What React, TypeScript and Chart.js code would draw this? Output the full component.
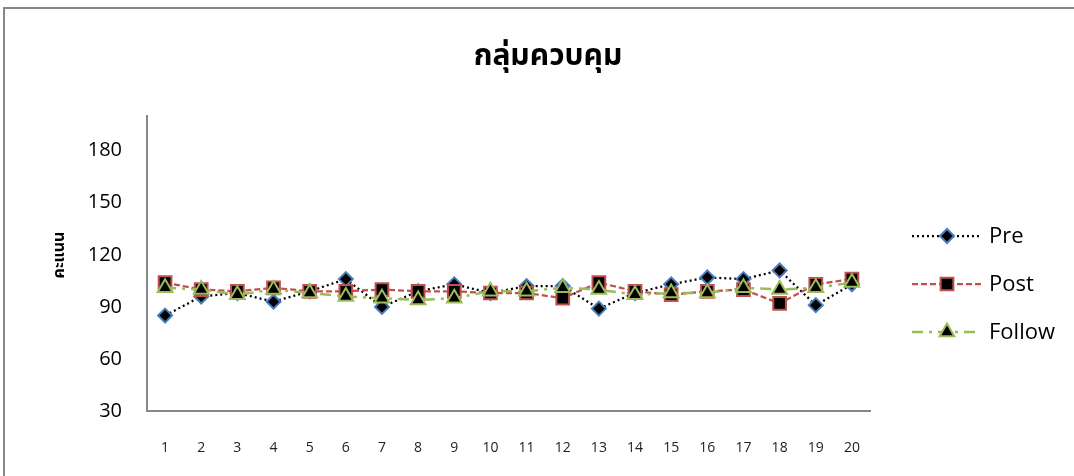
import React, { useEffect, useRef } from 'react';
import { Chart, registerables } from 'chart.js';
import { drawPoint } from 'chart.js/helpers';

Chart.register(...registerables);

const categories = ['1', '2', '3', '4', '5', '6', '7', '8', '9', '10', '11', '12', '13', '14', '15', '16', '17', '18', '19', '20'];
const preValues = [85, 96, 98, 93, 99, 106, 90, 99, 103, 98, 102, 102, 89, 98, 103, 107, 106, 111, 91, 103];
const postValues = [104, 100, 99, 101, 99, 99, 100, 99, 99, 98, 98, 95, 104, 99, 97, 99, 100, 92, 103, 106];
const followValues = [101, 100, 97, 100, 98, 96, 95, 94, 95, 99, 99, 101, 100, 97, 98, 98, 101, 100, 101, 104];
const yTicks = [30, 60, 90, 120, 150, 180];
const seriesNames = ['Pre', 'Post', 'Follow'];
const chartTitle = 'กลุ่มควบคุม';
const yAxisTitle = 'คะแนน';

const THAI_FONT = '"Noto Sans Thai", "Loma", "Garuda", "Tlwg Typo", "DejaVu Sans", sans-serif';
const LATIN_FONT = '"Open Sans", "Noto Sans", sans-serif';

const decorPlugin = {
  id: 'decor',
  afterDraw(chart: any) {
    const ctx = chart.ctx as CanvasRenderingContext2D;
    ctx.save();
    // Title
    ctx.fillStyle = '#000';
    ctx.font = `bold 30px ${THAI_FONT}`;
    ctx.textAlign = 'center';
    ctx.textBaseline = 'middle';
    ctx.fillText(chartTitle, 548, 59);
    // Y axis title
    ctx.save();
    ctx.translate(61, 255);
    ctx.rotate(-Math.PI / 2);
    ctx.font = `bold 16px ${THAI_FONT}`;
    ctx.fillText(yAxisTitle, 0, 0);
    ctx.restore();
    // Legend
    chart.data.datasets.forEach((ds: any, i: number) => {
      const y = 236 + 48 * i;
      ctx.save();
      ctx.strokeStyle = ds.borderColor;
      ctx.lineWidth = ds.borderWidth;
      ctx.setLineDash(ds.borderDash || []);
      ctx.beginPath();
      ctx.moveTo(912, y);
      ctx.lineTo(981, y);
      ctx.stroke();
      ctx.restore();
      ctx.save();
      ctx.fillStyle = ds.pointBackgroundColor;
      ctx.strokeStyle = ds.pointBorderColor;
      ctx.lineWidth = ds.pointBorderWidth;
      ctx.setLineDash([]);
      drawPoint(ctx, { pointStyle: ds.pointStyle, radius: ds.pointRadius, rotation: 0, borderWidth: ds.pointBorderWidth }, 947, y);
      ctx.restore();
      ctx.fillStyle = '#000';
      ctx.font = `22px ${LATIN_FONT}`;
      ctx.textAlign = 'left';
      ctx.textBaseline = 'middle';
      ctx.fillText(ds.label, 989, y + 1);
    });
    ctx.restore();
  },
};

export default function App() {
  const canvasRef = useRef<HTMLCanvasElement | null>(null);

  useEffect(() => {
    if (!canvasRef.current) return;
    const chart = new Chart(canvasRef.current, {
      type: 'line',
      data: {
        labels: categories,
        datasets: [
          {
            label: seriesNames[0],
            data: preValues,
            borderColor: '#000000',
            borderWidth: 2.25,
            borderDash: [2, 3],
            pointStyle: 'rectRot',
            pointRadius: 7,
            pointBorderWidth: 2,
            pointBackgroundColor: '#000000',
            pointBorderColor: '#4a7ebb',
            tension: 0,
            order: 2,
          },
          {
            label: seriesNames[1],
            data: postValues,
            borderColor: '#c0504d',
            borderWidth: 2.25,
            borderDash: [6, 3],
            pointStyle: 'rect',
            pointRadius: 9,
            pointBorderWidth: 2,
            pointBackgroundColor: '#000000',
            pointBorderColor: '#c0504d',
            tension: 0,
            order: 1,
          },
          {
            label: seriesNames[2],
            data: followValues,
            borderColor: '#9bbb59',
            borderWidth: 2.5,
            borderDash: [11, 6, 3, 6],
            pointStyle: 'triangle',
            pointRadius: 8.5,
            pointBorderWidth: 2,
            pointBackgroundColor: '#000000',
            pointBorderColor: '#9bbb59',
            tension: 0,
            order: 0,
          },
        ] as any,
      },
      options: {
        animation: false,
        responsive: false,
        devicePixelRatio: 1,
        layout: { padding: { top: 116, right: 204, left: 0, bottom: 0 } },
        plugins: {
          legend: { display: false },
          title: { display: false },
          tooltip: { enabled: false },
        },
        scales: {
          x: {
            type: 'category',
            offset: true,
            grid: { display: false, drawTicks: false },
            border: { display: true, color: '#868686', width: 2 },
            ticks: {
              color: '#222',
              font: { family: LATIN_FONT, size: 14 },
              padding: 29,
              maxRotation: 0,
              autoSkip: false,
            },
            afterFit: (scale: any) => {
              scale.height = 65;
            },
          },
          y: {
            type: 'linear',
            min: 30,
            max: 200,
            grid: { display: false, drawTicks: false },
            border: { display: true, color: '#868686', width: 2 },
            ticks: {
              color: '#000',
              font: { family: LATIN_FONT, size: 20 },
              padding: 25,
            },
            afterBuildTicks: (scale: any) => {
              scale.ticks = yTicks.map((v) => ({ value: v }));
            },
            afterFit: (scale: any) => {
              scale.width = 147;
            },
          },
        },
      },
      plugins: [decorPlugin],
    });
    return () => chart.destroy();
  }, []);

  return (
    <div style={{ position: 'absolute', left: 0, top: 0, width: 1074, height: 476, overflow: 'hidden', background: '#fff' }}>
      <canvas ref={canvasRef} width={1074} height={476} style={{ display: 'block', width: 1074, height: 476 }} />
      <div
        style={{
          position: 'absolute',
          left: 3,
          top: 7,
          width: 1200,
          height: 600,
          border: '2px solid #878787',
          boxSizing: 'border-box',
          pointerEvents: 'none',
        }}
      />
    </div>
  );
}
